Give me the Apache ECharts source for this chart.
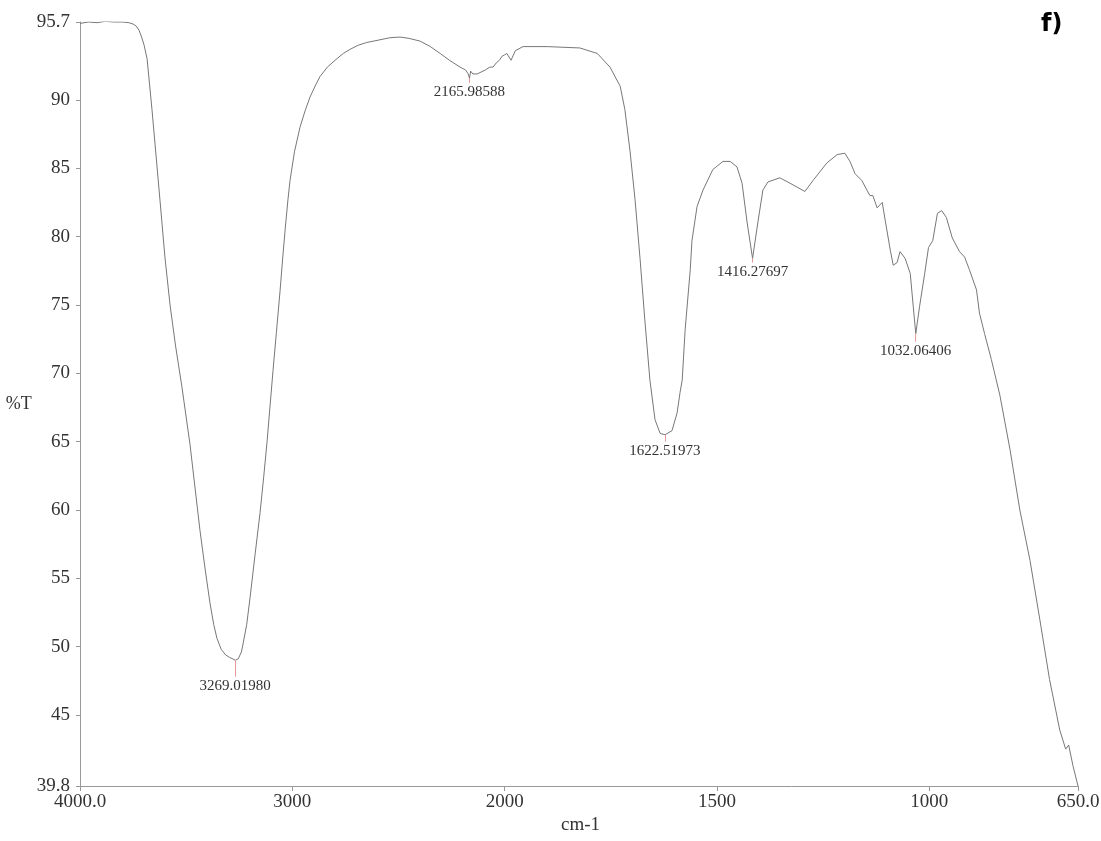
<!DOCTYPE html>
<html>
<head>
<meta charset="utf-8">
<script src="https://cdn.jsdelivr.net/npm/echarts@6/dist/echarts.min.js"></script>
<style>
  html, body { margin: 0; padding: 0; background: #fff; }
  #chart { width: 1101px; height: 841px; }
</style>
</head>
<body>
<div id="chart"></div>
<script>
// Wavenumbers (cm-1) and transmittance (%T)
const wavenumbers = [
  4000, 3960, 3920, 3880, 3840, 3800, 3770, 3750, 3735, 3722, 3710, 3698, 3684, 3661, 3640, 3623, 3600, 3576, 3550, 3520,
  3482, 3435, 3410, 3388, 3370, 3355, 3335, 3315, 3295, 3280, 3269, 3255, 3240, 3232, 3215, 3199, 3175, 3152, 3135, 3119,
  3105, 3091, 3075, 3058, 3045, 3034, 3020, 3011, 2990, 2964, 2940, 2917, 2890, 2870, 2835, 2799, 2760, 2728, 2690, 2650,
  2587, 2540, 2493, 2450, 2398, 2350, 2304, 2260, 2210, 2185, 2172, 2166, 2160, 2150, 2130, 2116, 2090, 2070, 2055, 2040,
  2025, 2012, 2000, 1995, 1985, 1975, 1957, 1900, 1823, 1782, 1752, 1728, 1717, 1705, 1693, 1681, 1670, 1658, 1646, 1634,
  1622.5, 1606, 1594, 1587, 1582, 1575, 1563, 1559, 1547, 1533, 1510, 1486, 1469, 1453, 1441, 1429, 1416.3, 1404, 1392, 1380,
  1352, 1328, 1293, 1274, 1241, 1217, 1199, 1187, 1175, 1159, 1147, 1140, 1133, 1123, 1111, 1104, 1092, 1085, 1076, 1069,
  1057, 1045, 1038, 1032, 1023, 1011, 1002, 992, 981, 971, 960, 946, 929, 917, 906, 889, 882, 870, 854, 834,
  810, 787, 763, 740, 717, 693, 679, 672, 662, 650
];
const transmittance = [
  95.6, 95.7, 95.65, 95.75, 95.7, 95.7, 95.65, 95.55, 95.4, 95.1, 94.6, 94.0, 93.0, 89.3, 85.6, 82.6, 78.5, 75.0, 72.0, 69.0,
  64.8, 58.5, 55.6, 53.2, 51.6, 50.6, 49.8, 49.4, 49.2, 49.1, 49.0, 49.1, 49.6, 50.2, 51.6, 53.6, 56.8, 59.8, 62.4, 65.0,
  67.6, 70.2, 73.0, 76.0, 78.5, 80.5, 82.8, 84.1, 86.2, 88.0, 89.2, 90.2, 91.1, 91.7, 92.4, 92.9, 93.4, 93.7, 94.0, 94.2,
  94.4, 94.55, 94.6, 94.5, 94.3, 93.9, 93.4, 92.9, 92.4, 92.2, 91.9, 91.6, 92.1, 91.9, 91.9, 92.0, 92.2, 92.4, 92.4, 92.7,
  92.9, 93.2, 93.3, 93.4, 92.9, 93.6, 93.9, 93.9, 93.8, 93.4, 92.4, 91.0, 89.3, 86.3, 82.7, 78.3, 73.9, 69.5, 66.6, 65.6,
  65.5, 65.8, 67.1, 68.6, 69.5, 73.2, 77.6, 79.7, 82.2, 83.4, 84.9, 85.5, 85.5, 85.1, 83.9, 81.0, 78.4, 81.0, 83.4, 84.0,
  84.3, 83.9, 83.3, 84.1, 85.4, 86.0, 86.1, 85.5, 84.6, 84.1, 83.4, 83.0, 83.0, 82.1, 82.5, 81.2, 79.0, 77.9, 78.1, 78.9,
  78.4, 77.3, 74.9, 72.9, 74.9, 77.3, 79.2, 79.7, 81.7, 81.9, 81.4, 79.9, 78.9, 78.5, 77.6, 76.1, 74.4, 72.9, 71.0, 68.4,
  64.4, 60.0, 56.3, 52.0, 47.6, 43.9, 42.5, 42.8, 41.3, 39.8
];

// Peak annotations: position, curve value at the peak, value where the red tick ends, label
const peakWn = [3269.01980, 2165.98588, 1622.51973, 1416.27697, 1032.06406];
const peakT = [49.0, 91.6, 65.5, 78.4, 72.9];
const peakTickEnd = [47.8, 91.25, 65.0, 78.1, 72.3];
const peakLabels = ['3269.01980', '2165.98588', '1622.51973', '1416.27697', '1032.06406'];

// Axis ticks
const yTicks = [39.8, 45, 50, 55, 60, 65, 70, 75, 80, 85, 90, 95.7];
const xTicksHigh = [4000, 3000, 2000];
const xTicksLow = [1500, 1000, 650];
const xTickText = { 4000: '4000.0', 3000: '3000', 2000: '2000', 1500: '1500', 1000: '1000', 650: '650.0' };
const Y_MIN = 39.8, Y_MAX = 95.7;
const SPLIT = 2000;

const pts = wavenumbers.map((w, i) => [w, transmittance[i]]);
const highPts = pts.filter(p => p[0] >= SPLIT);
const lowPts = pts.filter(p => p[0] <= SPLIT);

function peakMarks(filterFn) {
  const out = [];
  peakWn.forEach((w, i) => {
    if (!filterFn(w)) return;
    out.push([
      { coord: [w, peakT[i]], name: peakLabels[i] },
      { coord: [w, peakTickEnd[i]] }
    ]);
  });
  return {
    silent: true,
    symbol: ['none', 'none'],
    animation: false,
    lineStyle: { color: '#e89a9a', width: 1, type: 'solid' },
    label: {
      show: true, position: 'end', distance: 2,
      formatter: p => p.name,
      color: '#333', fontFamily: 'Liberation Serif', fontSize: 15
    },
    data: out
  };
}

const axisFont = { color: '#333', fontFamily: 'Liberation Serif', fontSize: 19 };
const axisLineStyle = { color: '#999', width: 1 };

// grid geometry: 4000-2000 gets half the px per unit of 2000-650
const L = 80, R = 1078, T = 22, B = 786;
const unitPx = (R - L) / ((4000 - SPLIT) + 2 * (SPLIT - 650));
const w1 = (4000 - SPLIT) * unitPx;
const w2 = (R - L) - w1;

const chart = echarts.init(document.getElementById('chart'), null, { renderer: 'canvas' });
chart.setOption({
  animation: false,
  backgroundColor: '#fff',
  grid: [
    { left: L, top: T, width: w1, height: B - T, containLabel: false, outerBoundsMode: 'none' },
    { left: L + w1, top: T, width: w2, height: B - T, containLabel: false, outerBoundsMode: 'none' }
  ],
  xAxis: [
    {
      gridIndex: 0, type: 'value', min: SPLIT, max: 4000, inverse: true,
      axisLine: { show: true, lineStyle: axisLineStyle },
      axisTick: { show: true, customValues: xTicksHigh, length: 5, lineStyle: axisLineStyle },
      axisLabel: { show: true, customValues: xTicksHigh, formatter: v => xTickText[v] || String(v), margin: 7, ...axisFont },
      splitLine: { show: false }
    },
    {
      gridIndex: 1, type: 'value', min: 650, max: SPLIT, inverse: true,
      axisLine: { show: true, lineStyle: axisLineStyle },
      axisTick: { show: true, customValues: xTicksLow, length: 5, lineStyle: axisLineStyle },
      axisLabel: { show: true, customValues: xTicksLow, formatter: v => xTickText[v] || String(v), margin: 7, ...axisFont },
      splitLine: { show: false }
    }
  ],
  yAxis: [
    {
      gridIndex: 0, type: 'value', min: Y_MIN, max: Y_MAX,
      name: '%T', nameLocation: 'middle', nameRotate: 0, nameGap: 45,
      nameTextStyle: { color: '#333', fontFamily: 'Liberation Serif', fontSize: 18 },
      axisLine: { show: true, lineStyle: axisLineStyle },
      axisTick: { show: true, customValues: yTicks, length: 4, lineStyle: axisLineStyle },
      axisLabel: { show: true, customValues: yTicks, formatter: v => String(v), margin: 10, ...axisFont },
      splitLine: { show: false }
    },
    {
      gridIndex: 1, type: 'value', min: Y_MIN, max: Y_MAX, show: false,
      splitLine: { show: false }
    }
  ],
  graphic: [
    {
      type: 'text', left: (L + R) / 2 - 18, top: 816,
      style: { text: 'cm-1', fill: '#333', font: '19px "Liberation Serif"' }
    },
    {
      type: 'text', left: 1041, top: 13,
      style: { text: 'f)', fill: '#000', font: 'bold 24px "DejaVu Sans"' }
    }
  ],
  series: [
    {
      type: 'line', xAxisIndex: 0, yAxisIndex: 0, data: highPts,
      showSymbol: false, symbol: 'none', smooth: false,
      lineStyle: { color: '#777', width: 1 },
      markLine: peakMarks(w => w >= SPLIT)
    },
    {
      type: 'line', xAxisIndex: 1, yAxisIndex: 1, data: lowPts,
      showSymbol: false, symbol: 'none', smooth: false,
      lineStyle: { color: '#777', width: 1 },
      markLine: peakMarks(w => w < SPLIT)
    }
  ]
});
</script>
</body>
</html>
